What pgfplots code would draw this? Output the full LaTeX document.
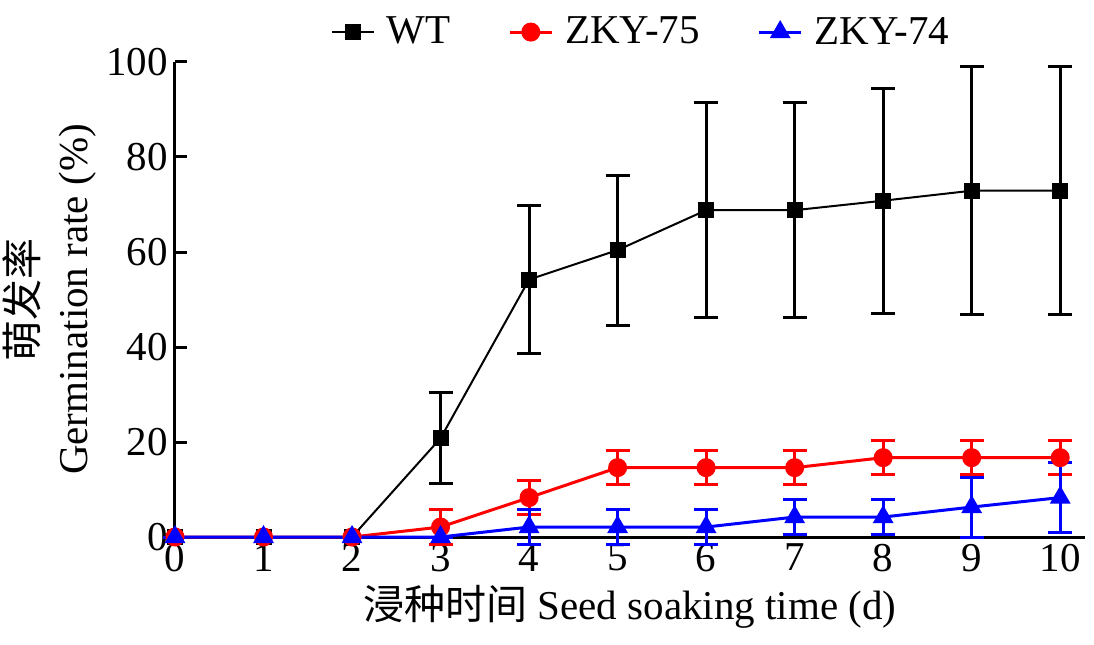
\documentclass[border=0pt]{standalone}
\usepackage{fontspec}
\setmainfont{Liberation Serif}
\newfontfamily\cjk{Noto Sans CJK SC}
\usepackage{pgfplots}
\usepackage{pgfplotstable}
\pgfplotsset{compat=1.18}
\usetikzlibrary{calc}

\pgfplotstableread{
x y e
0 0 0
1 0 0
2 0 0
3 20.8 9.6
4 54.2 15.6
5 60.4 15.8
6 68.8 22.6
7 68.8 22.6
8 70.8 23.7
9 72.9 26.1
10 72.9 26.1
}\wt

\pgfplotstableread{
x y e
0 0 0
1 0 0
2 0 0
3 2.1 3.6
4 8.3 3.6
5 14.6 3.6
6 14.6 3.6
7 14.6 3.6
8 16.7 3.6
9 16.7 3.6
10 16.7 3.6
}\zkyA

\pgfplotstableread{
x y e
0 0 0
1 0 0
2 0 0
3 0 0
4 2.1 3.6
5 2.1 3.6
6 2.1 3.6
7 4.2 3.6
8 4.2 3.6
9 6.3 6.3
10 8.3 7.3
}\zkyB

\begin{document}
\begin{tikzpicture}
\begin{axis}[
  scale only axis,
  width=455pt, height=237.5pt,
  xmin=0, xmax=10.28, ymin=0, ymax=100,
  axis lines=left,
  axis line style={line width=1.5pt, -},
  clip=false,
  xtick={0,1,...,10},
  ytick={0,20,...,100},
  tick align=inside,
  major tick length=6pt,
  major x tick style={draw=none},
  major y tick style={line width=1.5pt, black},
  /pgf/number format/assume math mode=true,
  tick label style={font=\fontsize{20.5}{24}\selectfont},
  xlabel={{\cjk 浸种时间} Seed soaking time (d)},
  xlabel style={at={(axis description cs:0.5,-0.147)}, anchor=center, font=\fontsize{20.5}{24}\selectfont},
  ylabel={{\cjk 萌发率}\\Germination rate (\%)},
  ylabel style={at={(axis description cs:-0.138,0.5)}, anchor=center, align=center, font=\fontsize{20.5}{25}\selectfont},
  legend columns=3,
  legend image code/.code={\draw[mark repeat=2,mark phase=2] plot coordinates {(0pt,0pt) (10.5pt,0pt) (21pt,0pt)};},
  legend style={draw=none, fill=none, at={(axis description cs:0.513,1.063)}, anchor=center,
    font=\fontsize{20.5}{24}\selectfont,
    /tikz/every odd column/.append style={column sep=4pt},
    /tikz/every even column/.append style={column sep=27pt}},
]
\addplot[black, line width=1pt, mark=square*, mark size=3.5pt, mark options={solid},
  error bars/.cd, y dir=both, y explicit,
  error bar style={line width=1.5pt, black},
  error mark options={rotate=90, mark size=6pt, line width=1.5pt, black}]
  table[x=x, y=y, y error=e] {\wt};
\addlegendentry{WT}
\addplot[red, line width=1.5pt, mark=*, mark size=4pt, mark options={solid},
  error bars/.cd, y dir=both, y explicit,
  error bar style={line width=1.5pt, red},
  error mark options={rotate=90, mark size=6pt, line width=1.5pt, red}]
  table[x=x, y=y, y error=e] {\zkyA};
\addlegendentry{ZKY-75}
\addplot[blue, line width=1.5pt, mark=triangle*, mark size=4.5pt, mark options={solid},
  error bars/.cd, y dir=both, y explicit,
  error bar style={line width=1.5pt, blue},
  error mark options={rotate=90, mark size=6pt, line width=1.5pt, blue}]
  table[x=x, y=y, y error=e] {\zkyB};
\addlegendentry{ZKY-74}
\end{axis}
\pgfresetboundingbox
\path[use as bounding box] ($(current axis.south west)+(-87.5pt,-53.5pt)$) rectangle ($(current axis.south west)+(459.5pt,268.5pt)$);
\end{tikzpicture}
\end{document}
